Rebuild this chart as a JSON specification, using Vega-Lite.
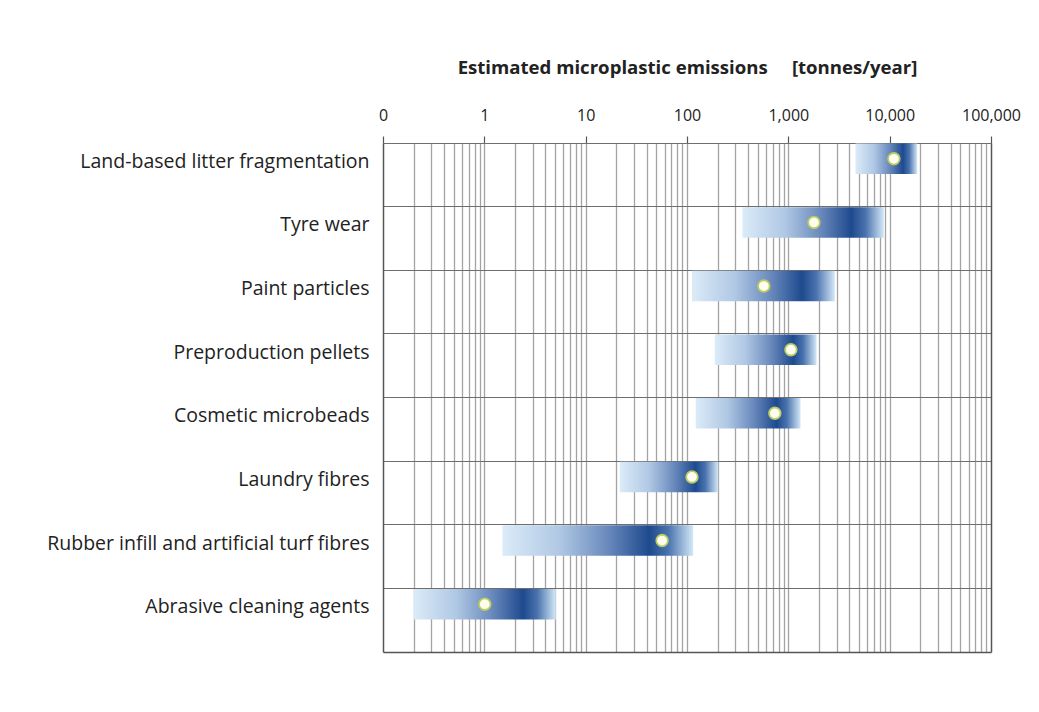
{
  "$schema": "https://vega.github.io/schema/vega-lite/v6.json",
  "autosize": "none",
  "width": 608,
  "height": 509,
  "padding": {"left": 383, "top": 143, "right": 48, "bottom": 60},
  "background": "white",
  "config": {"view": {"stroke": null}},
  "data": {
    "values": [
      {"source": "Land-based litter fragmentation", "low": 4600, "high": 18700, "central": 11000},
      {"source": "Tyre wear", "low": 353, "high": 8770, "central": 1790},
      {"source": "Paint particles ", "low": 112, "high": 2880, "central": 573},
      {"source": "Preproduction pellets", "low": 188, "high": 1900, "central": 1060},
      {"source": "Cosmetic microbeads", "low": 122, "high": 1320, "central": 736},
      {"source": "Laundry fibres", "low": 21.7, "high": 203, "central": 112},
      {"source": "Rubber infill and artificial turf fibres", "low": 1.51, "high": 115, "central": 56.8},
      {"source": "Abrasive cleaning agents", "low": 0.2, "high": 5.07, "central": 1.01}
    ]
  },
  "resolve": {"axis": {"x": "independent", "y": "independent"}},
  "layer": [
    {
      "mark": {
        "type": "bar",
        "height": {"band": 0.48},
        "yOffset": -16,
        "stroke": null,
        "fill": {
          "gradient": "linear",
          "x1": 0, "y1": 0, "x2": 1, "y2": 0,
          "stops": [
            {"offset": 0, "color": "#dbebf8"},
            {"offset": 0.3, "color": "#b0c8e4"},
            {"offset": 0.55, "color": "#6a8abd"},
            {"offset": 0.77, "color": "#1e4a8e"},
            {"offset": 0.87, "color": "#4a73ae"},
            {"offset": 1, "color": "#d3e8f7"}
          ]
        }
      },
      "encoding": {
        "y": {
          "field": "source", "type": "nominal", "sort": null,
          "scale": {"paddingInner": 0, "paddingOuter": 0},
          "axis": {
            "orient": "left", "title": null,
            "ticks": false, "grid": false,
            "domain": true, "domainColor": "#555555", "domainWidth": 1.5,
            "labelFont": "Open Sans", "labelFontSize": 19.5, "labelColor": "#222222",
            "labelPadding": 14, "labelLimit": 400, "labelOffset": -13
          }
        },
        "x": {
          "field": "low", "type": "quantitative",
          "scale": {"type": "log", "domain": [0.1, 100000], "nice": false},
          "axis": {
            "orient": "bottom", "title": null, "labels": false, "ticks": false,
            "domain": true, "domainColor": "#555555", "domainWidth": 1.5,
            "grid": true, "gridColor": "#a3a3a3", "gridWidth": 1.3,
            "values": [0.2,0.3,0.4,0.5,0.6,0.7,0.8,0.9,1,2,3,4,5,6,7,8,9,10,20,30,40,50,60,70,80,90,100,200,300,400,500,600,700,800,900,1000,2000,3000,4000,5000,6000,7000,8000,9000,10000,20000,30000,40000,50000,60000,70000,80000,90000]
          }
        },
        "x2": {"field": "high"}
      }
    },
    {
      "mark": {"type": "point", "shape": "circle", "filled": true, "fill": "#fffdee", "stroke": "#b9cc63", "strokeWidth": 1.8, "size": 135, "opacity": 1, "yOffset": -16},
      "encoding": {
        "y": {
          "field": "source", "type": "nominal", "sort": null,
          "axis": {
            "orient": "right", "title": null, "bandPosition": 0,
            "labels": false, "ticks": false,
            "domain": true, "domainColor": "#555555", "domainWidth": 1.5,
            "grid": true, "gridColor": "#6e6e6e", "gridWidth": 1.2
          }
        },
        "x": {
          "field": "central", "type": "quantitative",
          "axis": {
            "orient": "top",
            "title": "Estimated microplastic emissions\u00a0\u00a0\u00a0\u00a0\u00a0[tonnes/year]",
            "titleFont": "Open Sans", "titleFontSize": 18.6, "titleFontWeight": "bold", "titleColor": "#222222",
            "titlePadding": 30,
            "values": [0.1, 1, 10, 100, 1000, 10000, 100000],
            "labelExpr": "datum.value < 0.5 ? '0' : format(datum.value, ',')",
            "labelFont": "Open Sans", "labelFontSize": 16, "labelColor": "#222222", "labelPadding": 13,
            "labelFlush": false, "labelOverlap": false,
            "ticks": true, "tickSize": 7, "tickColor": "#555555", "tickWidth": 1.2,
            "domain": true, "domainColor": "#6e6e6e", "domainWidth": 1.2,
            "grid": false
          }
        }
      }
    }
  ]
}
